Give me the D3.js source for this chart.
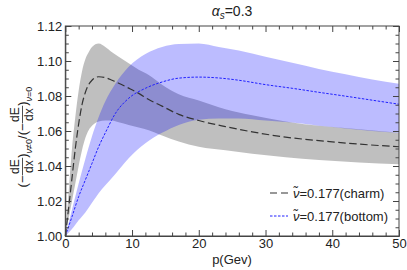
<!DOCTYPE html>
<html>
  <head>
    <meta charset="utf-8">
    <title>Energy loss ratio vs p</title>
    <style type="text/css">
    body { margin: 0; background: #fff; }
    svg text { font-family: "Liberation Sans", Arial, sans-serif; fill: #222; }
    .axis path, .axis line { stroke: #444; }
    </style>
  </head>
  <body>
    <div id="chart"></div>
    <script src="https://d3js.org/d3.v7.min.js"></script>
    <script>

    // charm band (grey) and central curve
    var charmP   = [0, 0.5, 1, 1.5, 2, 2.5, 3, 3.5, 4, 5, 6, 7, 8, 9.5, 11, 12.5, 14.5, 17, 20, 24, 28, 33, 38, 44, 50];
    var charmHi  = [1, 1.025, 1.05, 1.068, 1.083, 1.094, 1.101, 1.105, 1.108, 1.110, 1.108, 1.105, 1.1025, 1.0987, 1.095, 1.092, 1.0865, 1.081, 1.0775, 1.0725, 1.069, 1.0655, 1.063, 1.061, 1.059];
    var charmMid = [1, 1.016, 1.033, 1.05, 1.064, 1.075, 1.082, 1.0865, 1.089, 1.091, 1.0905, 1.089, 1.0873, 1.0845, 1.0815, 1.078, 1.0742, 1.0695, 1.066, 1.0625, 1.0595, 1.0565, 1.0545, 1.0525, 1.051];
    var charmLo  = [1, 1.01, 1.02, 1.03, 1.04, 1.049, 1.056, 1.0605, 1.063, 1.0655, 1.066, 1.066, 1.065, 1.0635, 1.062, 1.0605, 1.0575, 1.054, 1.051, 1.049, 1.047, 1.045, 1.0434, 1.042, 1.041];

    // bottom band (blue) and central curve
    var bottomP   = [0, 1, 2, 3, 4, 5, 6, 7.5, 9.5, 12, 14.5, 17, 20, 23, 26, 30, 34, 38, 42, 46, 50];
    var bottomHi  = [1, 1.015, 1.03, 1.044, 1.057, 1.068, 1.077, 1.087, 1.0967, 1.104, 1.108, 1.1097, 1.110, 1.108, 1.106, 1.1025, 1.099, 1.0955, 1.0925, 1.0895, 1.087];
    var bottomMid = [1, 1.011, 1.0225, 1.032, 1.0415, 1.051, 1.059, 1.070, 1.0787, 1.0844, 1.088, 1.0902, 1.0908, 1.0903, 1.089, 1.0865, 1.0844, 1.0821, 1.0799, 1.0776, 1.0753];
    var bottomLo  = [1, 1.004, 1.009, 1.0135, 1.019, 1.0245, 1.029, 1.0355, 1.0445, 1.053, 1.059, 1.0635, 1.0665, 1.0672, 1.0672, 1.066, 1.0648, 1.063, 1.0615, 1.060, 1.059];

    var xMajor = [0, 10, 20, 30, 40, 50];
    var yMajor = [1.00, 1.02, 1.04, 1.06, 1.08, 1.10, 1.12];
    var legendLabels = ["=0.177(charm)", "=0.177(bottom)"];

    var width = 407, height = 270;

    var svg = d3.select("#chart").append("svg")
      .attr("width", width)
      .attr("height", height);

    var x = d3.scaleLinear().domain([0, 50]).range([65.3, 399]);
    var y = d3.scaleLinear().domain([1.0, 1.12]).range([236, 26]);

    function rows(ps, lo, mid, hi) {
      return ps.map(function(p, i) { return {p: p, lo: lo[i], mid: mid[i], hi: hi[i]}; });
    }
    var charm = rows(charmP, charmLo, charmMid, charmHi);
    var bottom = rows(bottomP, bottomLo, bottomMid, bottomHi);

    var band = d3.area()
      .curve(d3.curveMonotoneX)
      .x(function(d) { return x(d.p); })
      .y0(function(d) { return y(d.lo); })
      .y1(function(d) { return y(d.hi); });

    var line = d3.line()
      .curve(d3.curveMonotoneX)
      .x(function(d) { return x(d.p); })
      .y(function(d) { return y(d.mid); });

    svg.append("path").datum(charm)
      .attr("d", band)
      .attr("fill", "#000").attr("fill-opacity", 0.25);

    svg.append("path").datum(bottom)
      .attr("d", band)
      .attr("fill", "#0000ff").attr("fill-opacity", 0.263);

    svg.append("path").datum(charm)
      .attr("d", line)
      .attr("fill", "none").attr("stroke", "#333").attr("stroke-width", 1.2)
      .attr("stroke-dasharray", "7.5,3.5");

    svg.append("path").datum(bottom)
      .attr("d", line)
      .attr("fill", "none").attr("stroke", "#2020ff").attr("stroke-width", 1)
      .attr("stroke-dasharray", "2.5,1.5");

    // frame with inward ticks on all four sides
    var xMinor = d3.range(0, 50.1, 2).filter(function(v) { return v % 10 !== 0; });
    var yMinor = d3.range(0, 25).map(function(i) { return 1 + i * 0.005; })
      .filter(function(v, i) { return i % 4 !== 0; });

    function addAxis(axisFn, ticks, size, labels, tx, ty) {
      var a = axisFn.tickValues(ticks).tickSize(-size).tickPadding(3);
      if (!labels) a.tickFormat("");
      var g = svg.append("g").attr("class", "axis")
        .attr("transform", "translate(" + tx + "," + ty + ")")
        .call(a);
      g.selectAll("text").style("font-size", "13px").attr("fill", "#222");
      if (!labels) g.select(".domain").remove();
      return g;
    }

    addAxis(d3.axisBottom(x), xMajor, 6, true, 0, 236).select(".domain").attr("stroke", "#444");
    addAxis(d3.axisBottom(x), xMinor, 3.5, false, 0, 236);
    addAxis(d3.axisTop(x), xMajor, 6, false, 0, 26);
    addAxis(d3.axisTop(x), xMinor, 3.5, false, 0, 26);
    addAxis(d3.axisLeft(y), yMajor, 6, true, 65.3, 0).selectAll("text").text(function(d) { return d3.format(".2f")(d); });
    addAxis(d3.axisLeft(y), yMinor, 3.5, false, 65.3, 0);
    addAxis(d3.axisRight(y), yMajor, 6, false, 399, 0);
    addAxis(d3.axisRight(y), yMinor, 3.5, false, 399, 0);

    svg.append("rect")
      .attr("x", 65.3).attr("y", 26).attr("width", 399 - 65.3).attr("height", 210)
      .attr("fill", "none").attr("stroke", "#444");

    // title
    var title = svg.append("text")
      .attr("x", 232).attr("y", 16).attr("text-anchor", "middle")
      .style("font-size", "14px");
    title.append("tspan").text("α").style("font-style", "italic");
    title.append("tspan").text("s").style("font-style", "italic").style("font-size", "10px").attr("dy", 3);
    title.append("tspan").text("=0.3").attr("dy", -3);

    // x label
    svg.append("text")
      .attr("x", 232).attr("y", 264).attr("text-anchor", "middle")
      .style("font-size", "13px")
      .text("p(Gev)");

    // y label, built piece by piece then rotated
    var yl = svg.append("g");
    var cur = 0;
    function piece(str, size, base, italic) {
      var t = yl.append("text").attr("x", cur).attr("y", base)
        .style("font-size", size + "px").text(str);
      if (italic) t.style("font-style", "italic");
      cur += t.node().getComputedTextLength();
    }
    function frac() {
      var n = yl.append("text").attr("y", -3).style("font-size", "12px").text("dE");
      var d = yl.append("text").attr("y", 11).style("font-size", "12px").text("dx");
      var w = Math.max(n.node().getComputedTextLength(), d.node().getComputedTextLength()) + 3;
      n.attr("x", cur + w / 2).attr("text-anchor", "middle");
      d.attr("x", cur + w / 2).attr("text-anchor", "middle");
      yl.append("line").attr("x1", cur).attr("x2", cur + w).attr("y1", 0.5).attr("y2", 0.5)
        .attr("stroke", "#222").attr("stroke-width", 0.8);
      cur += w;
    }
    piece("(\u2212", 13, 5);
    frac();
    piece(")", 13, 5);
    piece("\u03bd", 9, 10, true);
    piece("\u22600", 9, 10);
    piece("/(\u2212", 13, 5);
    frac();
    piece(")", 13, 5);
    piece("\u03bd", 9, 10, true);
    piece("=0", 9, 10);
    yl.attr("transform", "translate(22," + (137 + cur / 2) + ") rotate(-90)");

    // legend
    var legendStyles = [
      {stroke: "#333", dash: "7,4", width: 1.2},
      {stroke: "#2020ff", dash: "2.5,1.5", width: 1}
    ];
    var leg = svg.selectAll(".leg").data(legendLabels).enter().append("g")
      .attr("transform", function(d, i) { return "translate(0," + (193 + i * 23) + ")"; });
    leg.append("line")
      .attr("x1", 270).attr("x2", 288).attr("y1", 0).attr("y2", 0)
      .attr("stroke", function(d, i) { return legendStyles[i].stroke; })
      .attr("stroke-width", function(d, i) { return legendStyles[i].width; })
      .attr("stroke-dasharray", function(d, i) { return legendStyles[i].dash; });
    var lt = leg.append("text").attr("x", 293).attr("y", 4.5).style("font-size", "13px");
    lt.append("tspan").text("\u03bd\u0303").style("font-style", "italic");
    lt.append("tspan").text(function(d) { return d; });

    </script>
  </body>
</html>
